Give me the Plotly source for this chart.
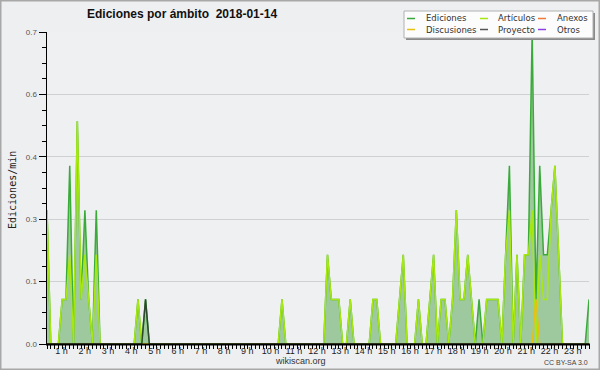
import plotly.graph_objects as go

# ---------------- data (edits per minute, 10-minute bins, 2018-01-14) ----------------
ediciones = [
    0.3, 0, 0, 0, 0.1, 0.1, 0.4, 0, 0.5, 0.1, 0.3, 0.1,
    0, 0.3, 0, 0, 0, 0, 0, 0, 0, 0, 0, 0,
    0.1, 0, 0.1, 0, 0, 0, 0, 0, 0, 0, 0, 0,
    0, 0, 0, 0, 0, 0, 0, 0, 0, 0, 0, 0,
    0, 0, 0, 0, 0, 0, 0, 0, 0, 0, 0, 0,
    0, 0, 0.1, 0, 0, 0, 0, 0, 0, 0, 0, 0,
    0, 0, 0.2, 0.1, 0.1, 0.1, 0, 0, 0.1, 0, 0, 0,
    0, 0, 0.1, 0.1, 0, 0, 0, 0, 0, 0.1, 0.2, 0,
    0, 0, 0.1, 0, 0, 0.1, 0.2, 0, 0.1, 0.1, 0, 0.1,
    0.3, 0.1, 0.1, 0.2, 0.1, 0, 0.1, 0, 0.1, 0.1, 0.1, 0.1,
    0, 0.2, 0.4, 0, 0.2, 0, 0.2, 0.2, 0.7, 0.1, 0.4, 0.2,
    0.2, 0.3, 0.4, 0.2, 0, 0, 0, 0, 0, 0, 0, 0.1,
]
articulos = [
    0.3, 0, 0, 0, 0.1, 0.1, 0.2, 0, 0.5, 0.1, 0.2, 0.1,
    0, 0.2, 0, 0, 0, 0, 0, 0, 0, 0, 0, 0,
    0.1, 0, 0, 0, 0, 0, 0, 0, 0, 0, 0, 0,
    0, 0, 0, 0, 0, 0, 0, 0, 0, 0, 0, 0,
    0, 0, 0, 0, 0, 0, 0, 0, 0, 0, 0, 0,
    0, 0, 0.1, 0, 0, 0, 0, 0, 0, 0, 0, 0,
    0, 0, 0.2, 0.1, 0.1, 0.1, 0, 0, 0.1, 0, 0, 0,
    0, 0, 0.1, 0.1, 0, 0, 0, 0, 0, 0.1, 0.2, 0,
    0, 0, 0.1, 0, 0, 0.1, 0.2, 0, 0.1, 0.1, 0, 0.1,
    0.3, 0.1, 0.1, 0.2, 0.1, 0, 0, 0, 0.1, 0.1, 0.1, 0.1,
    0, 0.2, 0.3, 0, 0.2, 0, 0.2, 0.2, 0.3, 0, 0.2, 0.1,
    0.1, 0.3, 0.4, 0.2, 0, 0, 0, 0, 0, 0, 0, 0,
]
anexos = [
    0, 0, 0, 0, 0, 0, 0, 0, 0, 0, 0, 0,
    0, 0, 0, 0, 0, 0, 0, 0, 0, 0, 0, 0,
    0, 0, 0, 0, 0, 0, 0, 0, 0, 0, 0, 0,
    0, 0, 0, 0, 0, 0, 0, 0, 0, 0, 0, 0,
    0, 0, 0, 0, 0, 0, 0, 0, 0, 0, 0, 0,
    0, 0, 0, 0, 0, 0, 0, 0, 0, 0, 0, 0,
    0, 0, 0, 0, 0, 0, 0, 0, 0, 0, 0, 0,
    0, 0, 0, 0, 0, 0, 0, 0, 0, 0, 0, 0,
    0, 0, 0, 0, 0, 0, 0, 0, 0, 0, 0, 0,
    0, 0, 0, 0, 0, 0, 0, 0, 0, 0, 0, 0,
    0, 0, 0, 0, 0, 0, 0, 0, 0, 0, 0, 0,
    0, 0, 0, 0, 0, 0, 0, 0, 0, 0, 0, 0,
]
discusiones = [
    0, 0, 0, 0, 0, 0, 0, 0, 0, 0, 0, 0,
    0, 0, 0, 0, 0, 0, 0, 0, 0, 0, 0, 0,
    0, 0, 0, 0, 0, 0, 0, 0, 0, 0, 0, 0,
    0, 0, 0, 0, 0, 0, 0, 0, 0, 0, 0, 0,
    0, 0, 0, 0, 0, 0, 0, 0, 0, 0, 0, 0,
    0, 0, 0, 0, 0, 0, 0, 0, 0, 0, 0, 0,
    0, 0, 0, 0, 0, 0, 0, 0, 0, 0, 0, 0,
    0, 0, 0, 0, 0, 0, 0, 0, 0, 0, 0, 0,
    0, 0, 0, 0, 0, 0, 0, 0, 0, 0, 0, 0,
    0, 0, 0, 0, 0, 0, 0, 0, 0, 0, 0, 0,
    0, 0, 0, 0, 0, 0, 0, 0, 0, 0.1, 0, 0,
    0, 0, 0, 0, 0, 0, 0, 0, 0, 0, 0, 0,
]
proyecto = [
    0, 0, 0, 0, 0, 0, 0, 0, 0, 0, 0, 0,
    0, 0, 0, 0, 0, 0, 0, 0, 0, 0, 0, 0,
    0, 0, 0.1, 0, 0, 0, 0, 0, 0, 0, 0, 0,
    0, 0, 0, 0, 0, 0, 0, 0, 0, 0, 0, 0,
    0, 0, 0, 0, 0, 0, 0, 0, 0, 0, 0, 0,
    0, 0, 0, 0, 0, 0, 0, 0, 0, 0, 0, 0,
    0, 0, 0, 0, 0, 0, 0, 0, 0, 0, 0, 0,
    0, 0, 0, 0, 0, 0, 0, 0, 0, 0, 0, 0,
    0, 0, 0, 0, 0, 0, 0, 0, 0, 0, 0, 0,
    0, 0, 0, 0, 0, 0, 0, 0, 0, 0, 0, 0,
    0, 0, 0, 0, 0, 0, 0, 0, 0, 0, 0, 0,
    0, 0, 0, 0, 0, 0, 0, 0, 0, 0, 0, 0,
]
otros = [
    0, 0, 0, 0, 0, 0, 0, 0, 0, 0, 0, 0,
    0, 0, 0, 0, 0, 0, 0, 0, 0, 0, 0, 0,
    0, 0, 0, 0, 0, 0, 0, 0, 0, 0, 0, 0,
    0, 0, 0, 0, 0, 0, 0, 0, 0, 0, 0, 0,
    0, 0, 0, 0, 0, 0, 0, 0, 0, 0, 0, 0,
    0, 0, 0, 0, 0, 0, 0, 0, 0, 0, 0, 0,
    0, 0, 0, 0, 0, 0, 0, 0, 0, 0, 0, 0,
    0, 0, 0, 0, 0, 0, 0, 0, 0, 0, 0, 0,
    0, 0, 0, 0, 0, 0, 0, 0, 0, 0, 0, 0,
    0, 0, 0, 0, 0, 0, 0, 0, 0, 0, 0, 0,
    0, 0, 0, 0, 0, 0, 0, 0, 0, 0, 0, 0,
    0, 0, 0, 0, 0, 0, 0, 0, 0, 0, 0, 0,
]
hour_labels = ["1 h", "2 h", "3 h", "4 h", "5 h", "6 h", "7 h", "8 h", "9 h", "10 h", "11 h", "12 h",
               "13 h", "14 h", "15 h", "16 h", "17 h", "18 h", "19 h", "20 h", "21 h", "22 h", "23 h"]
y_tick_values = [0, 0.14, 0.28, 0.42, 0.56, 0.7]
y_tick_labels = ["0.0", "0.1", "0.3", "0.4", "0.6", "0.7"]

series_names = ["Ediciones", "Artículos", "Anexos", "Discusiones", "Proyecto", "Otros"]
title_text = "Ediciones por ámbito \u00a02018-01-14"
y_title = "Ediciones/min"

# ---------------- layout geometry (pixels) ----------------
W, H = 600, 370
L, R, T, B = 47, 589, 32, 344
PW, PH = R - L, B - T

def px(x):
    return (x - L) / PW

def py(y):
    return (B - y) / PH

n = len(ediciones)
xs = list(range(n))
idx_per_px = (n - 1) / PW
tick_pos = [(38.2 + 23.24 * (k + 1) - L) * idx_per_px for k in range(len(hour_labels))]

C_ED = "#3aaa3a"
C_ART = "#a8e812"
C_ANX = "#f07838"
C_DIS = "#e8c010"
C_PRO = "#2e4a2e"
C_OTR = "#9040e0"
FILL = "#9ec99e"
BG = "#eeeff1"

fig = go.Figure()
fig.add_trace(go.Scatter(x=xs, y=ediciones, name=series_names[0], mode="lines",
                         line=dict(color=C_ED, width=1.5), fill="tozeroy", fillcolor=FILL))
fig.add_trace(go.Scatter(x=xs, y=anexos, name=series_names[2], mode="lines",
                         line=dict(color=C_ANX, width=1.2)))
fig.add_trace(go.Scatter(x=xs, y=otros, name=series_names[5], mode="lines",
                         line=dict(color=C_OTR, width=1.2)))
fig.add_trace(go.Scatter(x=xs, y=articulos, name=series_names[1], mode="lines",
                         line=dict(color=C_ART, width=1.5)))
fig.add_trace(go.Scatter(x=xs, y=discusiones, name=series_names[3], mode="lines",
                         line=dict(color=C_DIS, width=1.5)))
fig.add_trace(go.Scatter(x=xs, y=proyecto, name=series_names[4], mode="lines",
                         line=dict(color=C_PRO, width=1.5)))

fig.update_layout(
    width=W, height=H, autosize=False,
    margin=dict(l=L, r=W - R, t=T, b=H - B, pad=0),
    paper_bgcolor=BG, plot_bgcolor="#eff0f2",
    showlegend=False,
    font=dict(family="Liberation Sans", color="#222"),
)
fig.update_xaxes(
    range=[0, n - 1], showgrid=False, zeroline=False, showline=False,
    tickmode="array", tickvals=tick_pos, ticktext=hour_labels, ticks="",
    tickfont=dict(family="Liberation Sans", size=9, color="#222"),
    minor=dict(tickmode="linear", tick0=0, dtick=1, ticks="outside", ticklen=4,
               tickcolor="#000", tickwidth=1, showgrid=False),
)
fig.update_yaxes(
    range=[0, 0.7], showgrid=True, gridcolor="#cfd0d2", gridwidth=1, zeroline=False,
    showline=True, linecolor="#000", linewidth=1.5,
    tickmode="array", tickvals=y_tick_values, ticktext=y_tick_labels,
    ticks="outside", ticklen=7, tickcolor="#000", tickwidth=1,
    tickfont=dict(family="Liberation Sans", size=8, color="#555"),
    minor=dict(tickmode="linear", tick0=0, dtick=0.035, ticks="outside", ticklen=4,
               tickcolor="#000", tickwidth=1, showgrid=False),
)

shapes = []
# outer border
shapes.append(dict(type="rect", xref="paper", yref="paper",
                   x0=px(0.75), x1=px(W - 0.75), y0=py(0.75), y1=py(H - 0.75),
                   line=dict(color="#a8a8a8", width=1.5), layer="below"))
# x axis line (drawn over traces)
shapes.append(dict(type="line", xref="paper", yref="paper",
                   x0=px(L - 1), x1=px(R + 1), y0=py(B + 0.5), y1=py(B + 0.5),
                   line=dict(color="#000", width=2), layer="above"))
# legend box with shadow
shapes.append(dict(type="rect", xref="paper", yref="paper",
                   x0=px(406), x1=px(595), y0=py(13), y1=py(40),
                   line=dict(width=0), fillcolor="#8a8a8a", layer="above"))
shapes.append(dict(type="rect", xref="paper", yref="paper",
                   x0=px(404), x1=px(593), y0=py(11), y1=py(38),
                   line=dict(color="#b0b0b0", width=1), fillcolor="#fcfcfc", layer="above"))

legend_items = [
    (series_names[0], C_ED, 407, 424, 18.5),
    (series_names[1], C_ART, 480, 496, 18.5),
    (series_names[2], C_ANX, 538, 555, 18.5),
    (series_names[3], C_DIS, 407, 424, 29.5),
    (series_names[4], "#555555", 480, 496, 29.5),
    (series_names[5], C_OTR, 538, 555, 29.5),
]
annotations = []
for name, col, lx, tx, ly in legend_items:
    shapes.append(dict(type="line", xref="paper", yref="paper",
                       x0=px(lx), x1=px(lx + 8), y0=py(ly), y1=py(ly),
                       line=dict(color=col, width=1.5), layer="above"))
    annotations.append(dict(xref="paper", yref="paper", x=px(tx), y=py(ly),
                            text=name, showarrow=False, xanchor="left", yanchor="middle",
                            font=dict(family="DejaVu Sans", size=8.5, color="#333")))

annotations.append(dict(xref="paper", yref="paper", x=px(85), y=py(14.5),
                        text="<b>" + title_text + "</b>",
                        showarrow=False, xanchor="left", yanchor="middle",
                        font=dict(family="Liberation Sans", size=12, color="#111")))
annotations.append(dict(xref="paper", yref="paper", x=px(12), y=py(190), text=y_title,
                        showarrow=False, textangle=-90, xanchor="center", yanchor="middle",
                        font=dict(family="DejaVu Sans Mono", size=10, color="#222")))
annotations.append(dict(xref="paper", yref="paper", x=px(300), y=py(361), text="wikiscan.org",
                        showarrow=False, xanchor="center", yanchor="middle",
                        font=dict(family="Liberation Sans", size=9, color="#333")))
annotations.append(dict(xref="paper", yref="paper", x=px(590), y=py(362), text="CC BY-SA 3.0",
                        showarrow=False, xanchor="right", yanchor="middle",
                        font=dict(family="Liberation Sans", size=7, color="#444")))

fig.update_layout(shapes=shapes, annotations=annotations)

fig.write_html(
    "out.html",
    config={"displayModeBar": False, "staticPlot": True},
    post_script="document.body.style.margin='0';document.body.style.padding='0';"
                "document.body.style.background='" + BG + "';document.body.style.overflow='hidden';",
)
